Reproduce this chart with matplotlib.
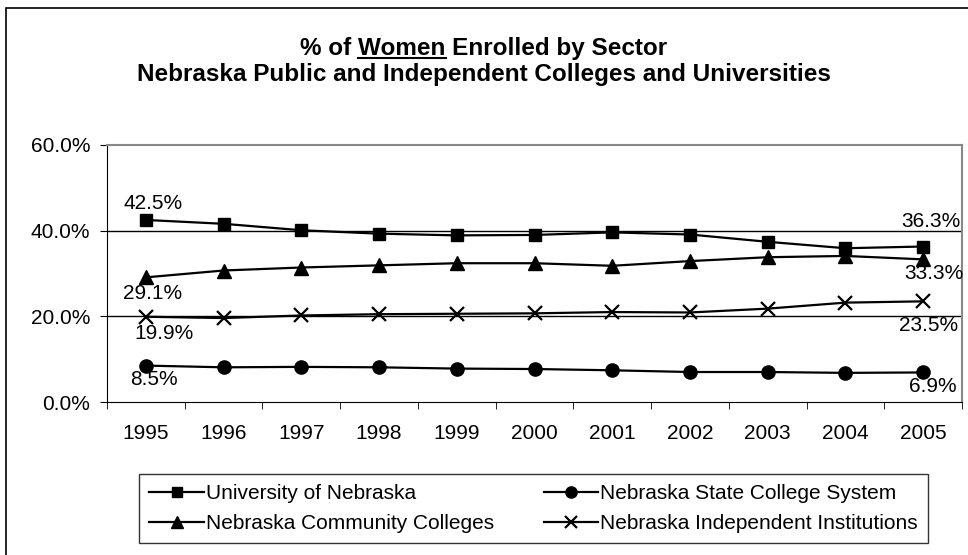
import numpy as np
import matplotlib
matplotlib.use("Agg")
import matplotlib.pyplot as plt
from matplotlib.patches import Rectangle
from matplotlib.lines import Line2D

plt.rcParams['font.family'] = ['Liberation Sans', 'DejaVu Sans']

years = ['1995', '1996', '1997', '1998', '1999', '2000',
         '2001', '2002', '2003', '2004', '2005']
univ = [42.5, 41.6, 40.1, 39.3, 38.9, 39.0, 39.6, 39.1, 37.4, 35.9, 36.3]
state = [8.5, 8.1, 8.2, 8.1, 7.8, 7.7, 7.4, 7.0, 7.0, 6.8, 6.9]
comm = [29.1, 30.7, 31.4, 31.9, 32.4, 32.4, 31.8, 32.9, 33.8, 34.1, 33.3]
indep = [19.9, 19.6, 20.2, 20.5, 20.6, 20.7, 21.0, 20.9, 21.8, 23.2, 23.5]

FS = 15
fig = plt.figure(figsize=(9.68, 5.55), dpi=100)
ax = fig.add_axes([107/968, 1-402/555, (962-107)/968, (402-145)/555])

x = np.arange(len(years))
h_u, = ax.plot(x, univ, color='black', lw=1.6, marker='s', ms=9, label='University of Nebraska')
h_s, = ax.plot(x, state, color='black', lw=1.6, marker='o', ms=9.5, label='Nebraska State College System')
h_c, = ax.plot(x, comm, color='black', lw=1.6, marker='^', ms=10, label='Nebraska Community Colleges')
h_i, = ax.plot(x, indep, color='black', lw=1.6, marker='x', ms=10, mew=1.6,
               label='Nebraska Independent Institutions')

ax.set_xlim(-0.5, len(years) - 0.5)
ax.set_ylim(0, 60)
ax.set_yticks([0, 20, 40, 60])
ax.set_yticklabels(['%.1f%%' % v for v in [0, 20, 40, 60]], fontsize=FS)
ax.set_xticks(x)
ax.set_xticklabels(years, fontsize=FS)
ax.set_xticks(np.arange(-0.5, len(years)), minor=True)
ax.tick_params(axis='x', which='major', length=0, pad=16)
ax.tick_params(axis='x', which='minor', length=5, direction='out')
ax.tick_params(axis='y', length=5, direction='out', pad=7)
for v in [20, 40]:
    ax.axhline(v, color='black', lw=1, zorder=0)
ax.spines['top'].set_color('#888888')
ax.spines['right'].set_color('#888888')
ax.spines['top'].set_linewidth(1.5)
ax.spines['right'].set_linewidth(1.5)

# data labels at first and last year (offsets in pixels)
def lab(i, vals, dx, dy):
    ax.annotate('%.1f%%' % vals[i], (x[i], vals[i]), xytext=(dx * 0.72, dy * 0.72),
                textcoords='offset points', ha='center', va='center', fontsize=FS)

lab(0, univ, 7, 16)
lab(-1, univ, 8, 25)
lab(0, comm, 7, -16)
lab(-1, comm, 11, -14)
lab(0, indep, 18, -17)
lab(-1, indep, 5, -24)
lab(0, state, 8, -14)
lab(-1, state, 10, -14)

leg = fig.legend([h_u, h_c, h_s, h_i], [h.get_label() for h in [h_u, h_c, h_s, h_i]],
                 loc='upper left', bbox_to_anchor=(139/968, 1 - 474/555), ncol=2,
                 fontsize=FS, frameon=True, fancybox=False, edgecolor='black',
                 handlelength=2.6, handletextpad=0.1, columnspacing=2.4,
                 borderpad=0.5, labelspacing=0.5, borderaxespad=0, markerscale=0.85)
leg.get_frame().set_linewidth(1)

# title with underlined word
TFS = 17.5
line1 = '% of Women Enrolled by Sector'
t1 = fig.text(0.5, 1 - 49/555, line1, ha='center', va='center',
              fontsize=TFS, fontweight='bold')
fig.text(0.5, 1 - 75/555, 'Nebraska Public and Independent Colleges and Universities',
         ha='center', va='center', fontsize=TFS, fontweight='bold')
fig.canvas.draw()
r = fig.canvas.get_renderer()
bb = t1.get_window_extent(r)
tmp = fig.text(0, 0, '% of ', fontsize=TFS, fontweight='bold')
w_pre = tmp.get_window_extent(r).width
tmp.set_text('Women')
w_w = tmp.get_window_extent(r).width
tmp.remove()
x0 = (bb.x0 + w_pre) / 968
x1 = (bb.x0 + w_pre + w_w) / 968
yu = (bb.y0 + 3) / 555
fig.add_artist(Line2D([x0, x1], [yu, yu], color='black', lw=1.5))

fig.add_artist(Rectangle((6/968, -0.01), 1.0, 1 - 8/555 + 0.01, fill=False,
                         edgecolor='black', lw=1.2, transform=fig.transFigure))

fig.savefig('out.png', dpi=100)
